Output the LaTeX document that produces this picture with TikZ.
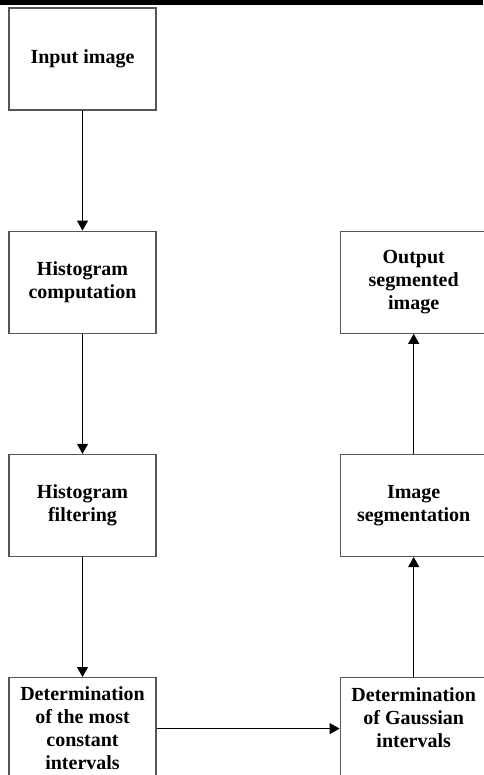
\documentclass[tikz,border=0pt]{standalone}
\usepackage{fontspec}
\setmainfont{Liberation Serif}
\usetikzlibrary{arrows.meta,positioning}
\definecolor{boxgray}{RGB}{85,85,85}
\tikzset{
  procbox/.style={draw=boxgray, line width=1.2pt, minimum width=147pt, minimum height=102pt, inner sep=3pt, align=center, font=\fontsize{20}{23}\selectfont\bfseries},
  arr/.style={-{Triangle[length=10pt,width=11pt]}, line width=1pt, black},
}

\begin{document}
\begin{tikzpicture}[x=1pt, y=-1pt, node distance=120pt]
  \useasboundingbox (0,0) rectangle (483,775);
  \fill[black] (0,0) rectangle (483,5.5);
  % left column
  \node[procbox] (in) at (82.5,59) {Input image};
  \node[procbox, below=of in] (hist) {Histogram\\computation};
  \node[procbox, below=of hist] (filt) {Histogram\\filtering};
  \node[procbox, below=of filt] (const) {Determination\\of the most\\constant\\intervals};
  % right column
  \node[procbox, right=183pt of const] (gauss) {Determination\\of Gaussian\\intervals\\\mbox{}};
  \node[procbox, above=of gauss] (seg) {Image\\segmentation};
  \node[procbox, above=of seg] (out) {Output\\segmented\\image};
  \draw[arr] (in) -- (hist);
  \draw[arr] (hist) -- (filt);
  \draw[arr] (filt) -- (const);
  \draw[arr] (const) -- (gauss);
  \draw[arr] (gauss) -- (seg);
  \draw[arr] (seg) -- (out);
\end{tikzpicture}
\end{document}
